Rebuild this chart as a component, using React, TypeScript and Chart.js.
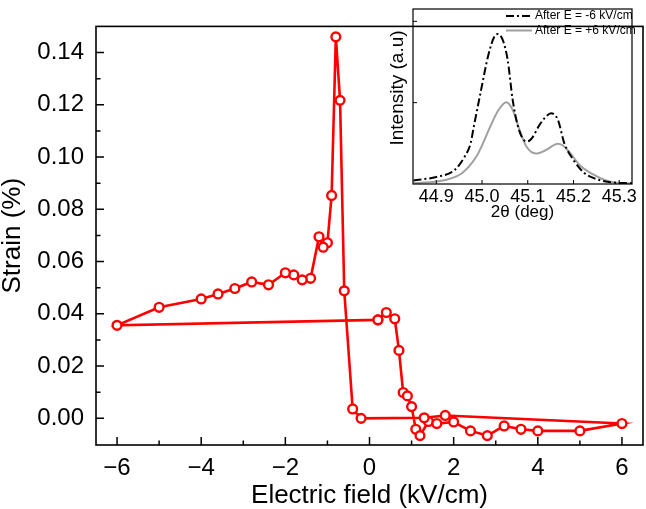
import React, { useEffect, useRef } from "react";
import { Chart, registerables } from "chart.js";

Chart.register(...registerables);

const FONT = "'Liberation Sans', Arial, sans-serif";

// Strain–field loop, points in measurement order
const fieldKV = [
  0.2, 0.4, 0.6, 0.7, 0.8, 0.9, 1.0, 1.1, 1.2, 1.4, 1.6, 2.0, 2.4, 2.8, 3.2, 3.6, 4.0, 5.0, 6.0,
  1.8, 1.3, -0.2, -0.4, -0.6, -0.7, -0.8, -0.9, -1.0, -1.1, -1.2, -1.4, -1.6, -1.8, -2.0, -2.4,
  -2.8, -3.2, -3.6, -4.0, -5.0, -6.0, 0.2,
];
const strainPct = [
  0.0377, 0.0405, 0.0381, 0.026, 0.0099, 0.0086, 0.0045, -0.0042, -0.0066, -0.0012, -0.002,
  -0.0014, -0.0048, -0.0066, -0.0029, -0.0042, -0.0048, -0.0048, -0.002, 0.0011, 0.0002, 0.0,
  0.0036, 0.0488, 0.1217, 0.146, 0.0853, 0.0672, 0.0655, 0.0695, 0.0536, 0.053, 0.0549, 0.0557,
  0.0511, 0.0522, 0.0497, 0.0476, 0.0457, 0.0425, 0.0356, 0.0377,
];

const fieldMajorTicks = [-6, -4, -2, 0, 2, 4, 6];
const fieldMinorTicks = [-5, -3, -1, 1, 3, 5];
const strainMajorTicks = [0, 0.02, 0.04, 0.06, 0.08, 0.1, 0.12, 0.14];
const strainMinorTicks = [0.01, 0.03, 0.05, 0.07, 0.09, 0.11, 0.13];

// Inset: XRD peak profiles
const thetaNeg = [
  44.85, 44.9, 44.94, 44.962, 44.975, 44.982, 44.998, 45.013, 45.027, 45.035, 45.045, 45.056,
  45.067, 45.078, 45.09, 45.1, 45.11, 45.125, 45.14, 45.151, 45.166, 45.18, 45.2, 45.222, 45.247,
  45.278, 45.33,
];
const intensityNeg = [
  0.022, 0.043, 0.086, 0.168, 0.25, 0.353, 0.579, 0.784, 0.907, 0.922, 0.887, 0.764, 0.517, 0.36,
  0.275, 0.262, 0.285, 0.36, 0.415, 0.435, 0.394, 0.25, 0.148, 0.072, 0.033, 0.012, 0.004,
];
const thetaPos = [
  44.85, 44.92, 44.956, 44.988, 45.002, 45.016, 45.035, 45.053, 45.067, 45.082, 45.097, 45.118,
  45.14, 45.166, 45.176, 45.187, 45.217, 45.246, 45.28, 45.33,
];
const intensityPos = [
  0.004, 0.025, 0.066, 0.17, 0.25, 0.34, 0.45, 0.503, 0.456, 0.333, 0.23, 0.187, 0.209, 0.248,
  0.238, 0.209, 0.107, 0.055, 0.014, 0.003,
];
const thetaTicks = [44.9, 45.0, 45.1, 45.2, 45.3];
const intensityTicks = [0.5, 1.0];
const seriesLabels = ["After E = -6 kV/cm", "After E = +6 kV/cm"];

const fmtField = (v: number) => (v < 0 ? "\u2212" + Math.abs(v) : String(v));

type FrameCfg = {
  xMajor: number[];
  xMinor: number[];
  yMajor: number[];
  yMinor: number[];
  majorLen: number;
  minorLen: number;
  tickWidth: number;
  frameWidth: number;
};

function framePlugin(id: string, cfg: FrameCfg) {
  return {
    id,
    afterDraw(chart: any) {
      const { ctx, chartArea: a, scales } = chart;
      const xs = scales.x;
      const ys = scales.y;
      ctx.save();
      ctx.strokeStyle = "#000";
      ctx.lineWidth = cfg.tickWidth;
      ctx.beginPath();
      const xt = (vals: number[], len: number) =>
        vals.forEach((v) => {
          const p = xs.getPixelForValue(v);
          ctx.moveTo(p, a.bottom);
          ctx.lineTo(p, a.bottom - len);
        });
      const yt = (vals: number[], len: number) =>
        vals.forEach((v) => {
          const p = ys.getPixelForValue(v);
          ctx.moveTo(a.left, p);
          ctx.lineTo(a.left + len, p);
        });
      xt(cfg.xMajor, cfg.majorLen);
      xt(cfg.xMinor, cfg.minorLen);
      yt(cfg.yMajor, cfg.majorLen);
      yt(cfg.yMinor, cfg.minorLen);
      ctx.stroke();
      ctx.lineWidth = cfg.frameWidth;
      ctx.strokeRect(a.left, a.top, a.right - a.left, a.bottom - a.top);
      ctx.restore();
    },
  };
}

const insetDecor = {
  id: "insetDecor",
  afterDraw(chart: any) {
    const { ctx } = chart;
    ctx.save();
    // legend
    const rows = [16, 30.5];
    chart.data.datasets.forEach((ds: any, i: number) => {
      const y = rows[i];
      ctx.strokeStyle = ds.borderColor;
      ctx.lineWidth = ds.borderWidth;
      ctx.setLineDash(ds.borderDash || []);
      ctx.beginPath();
      ctx.moveTo(126, y);
      ctx.lineTo(152, y);
      ctx.stroke();
      ctx.setLineDash([]);
      ctx.fillStyle = "#000";
      ctx.font = `12px ${FONT}`;
      ctx.textAlign = "left";
      ctx.textBaseline = "middle";
      ctx.fillText(ds.label, 155, y);
    });
    // vertical axis title
    ctx.translate(18, 88);
    ctx.rotate(-Math.PI / 2);
    ctx.font = `19px ${FONT}`;
    ctx.textAlign = "center";
    ctx.textBaseline = "middle";
    ctx.fillStyle = "#000";
    ctx.fillText("Intensity (a.u)", 0, 0);
    ctx.restore();
  },
};

export default function App() {
  const mainRef = useRef<HTMLCanvasElement | null>(null);
  const insetRef = useRef<HTMLCanvasElement | null>(null);

  useEffect(() => {
    document.body.style.margin = "0";
    const main = new Chart(mainRef.current as HTMLCanvasElement, {
      type: "scatter",
      data: {
        datasets: [
          {
            data: fieldKV.map((x, i) => ({ x, y: strainPct[i] })),
            showLine: true,
            borderColor: "#ff0000",
            borderWidth: 2.6,
            pointRadius: 4.4,
            pointBorderWidth: 2.4,
            pointBackgroundColor: "#ffffff",
            pointBorderColor: "#ff0000",
          },
        ],
      },
      options: {
        responsive: false,
        animation: false,
        layout: { padding: { left: 0, right: 3, top: 2, bottom: 0 }, autoPadding: false },
        plugins: { legend: { display: false }, tooltip: { enabled: false } },
        scales: {
          x: {
            type: "linear",
            min: -6.5,
            max: 6.5,
            afterBuildTicks: (s: any) => {
              s.ticks = fieldMajorTicks.map((v) => ({ value: v }));
            },
            afterFit: (s: any) => {
              s.height = 64;
            },
            grid: { display: false, drawTicks: false },
            border: { display: false },
            ticks: {
              padding: 9,
              color: "#000",
              maxRotation: 0,
              autoSkip: false,
              font: { family: FONT, size: 24 },
              callback: (v: any) => fmtField(Number(v)),
            },
            title: {
              display: true,
              text: "Electric field (kV/cm)",
              color: "#000",
              font: { family: FONT, size: 26, lineHeight: 1 },
              padding: { top: 0, bottom: 0 },
            },
          },
          y: {
            type: "linear",
            min: -0.0102,
            max: 0.15,
            afterBuildTicks: (s: any) => {
              s.ticks = strainMajorTicks.map((v) => ({ value: v }));
            },
            afterFit: (s: any) => {
              s.width = 96;
            },
            grid: { display: false, drawTicks: false },
            border: { display: false },
            ticks: {
              padding: 12,
              color: "#000",
              autoSkip: false,
              font: { family: FONT, size: 24 },
              callback: (v: any) => Number(v).toFixed(2),
            },
            title: {
              display: true,
              text: "Strain (%)",
              color: "#000",
              font: { family: FONT, size: 26, lineHeight: 1 },
              padding: { top: 0, bottom: 0 },
            },
          },
        },
      },
      plugins: [
        framePlugin("mainFrame", {
          xMajor: fieldMajorTicks,
          xMinor: fieldMinorTicks,
          yMajor: strainMajorTicks,
          yMinor: strainMinorTicks,
          majorLen: 8,
          minorLen: 4.5,
          tickWidth: 1.5,
          frameWidth: 1.6,
        }),
      ],
    } as any);

    const inset = new Chart(insetRef.current as HTMLCanvasElement, {
      type: "scatter",
      data: {
        datasets: [
          {
            label: seriesLabels[0],
            data: thetaNeg.map((x, i) => ({ x, y: intensityNeg[i] })),
            showLine: true,
            borderColor: "#000000",
            borderWidth: 2,
            borderDash: [8, 3, 2, 3],
            pointRadius: 0,
            cubicInterpolationMode: "monotone",
          },
          {
            label: seriesLabels[1],
            data: thetaPos.map((x, i) => ({ x, y: intensityPos[i] })),
            showLine: true,
            borderColor: "#a0a0a0",
            borderWidth: 2,
            pointRadius: 0,
            cubicInterpolationMode: "monotone",
          },
        ],
      },
      options: {
        responsive: false,
        animation: false,
        layout: { padding: { left: 0, right: 14, top: 9, bottom: 0 }, autoPadding: false },
        plugins: { legend: { display: false }, tooltip: { enabled: false } },
        scales: {
          x: {
            type: "linear",
            min: 44.849,
            max: 45.328,
            afterBuildTicks: (s: any) => {
              s.ticks = thetaTicks.map((v) => ({ value: v }));
            },
            afterFit: (s: any) => {
              s.height = 42;
            },
            grid: { display: false, drawTicks: false },
            border: { display: false },
            ticks: {
              padding: 2,
              color: "#000",
              maxRotation: 0,
              autoSkip: false,
              font: { family: FONT, size: 18 },
              callback: (v: any) => Number(v).toFixed(1),
            },
            title: {
              display: true,
              text: "2\u03b8 (deg)",
              color: "#000",
              font: { family: FONT, size: 17, lineHeight: 1 },
              padding: { top: 0, bottom: 5 },
            },
          },
          y: {
            type: "linear",
            min: 0,
            max: 1.0757,
            afterBuildTicks: (s: any) => {
              s.ticks = intensityTicks.map((v) => ({ value: v }));
            },
            afterFit: (s: any) => {
              s.width = 33;
            },
            grid: { display: false, drawTicks: false },
            border: { display: false },
            ticks: { display: false },
          },
        },
      },
      plugins: [
        framePlugin("insetFrame", {
          xMajor: thetaTicks,
          xMinor: [],
          yMajor: intensityTicks,
          yMinor: [],
          majorLen: 4,
          minorLen: 2,
          tickWidth: 1,
          frameWidth: 1.2,
        }),
        insetDecor,
      ],
    } as any);

    return () => {
      main.destroy();
      inset.destroy();
    };
  }, []);

  return (
    <div style={{ position: "relative", width: 646, height: 509 }}>
      <canvas
        ref={mainRef}
        width={646}
        height={509}
        style={{ position: "absolute", left: 0, top: 0 }}
      />
      <canvas
        ref={insetRef}
        width={266}
        height={226}
        style={{ position: "absolute", left: 380, top: 0 }}
      />
    </div>
  );
}
